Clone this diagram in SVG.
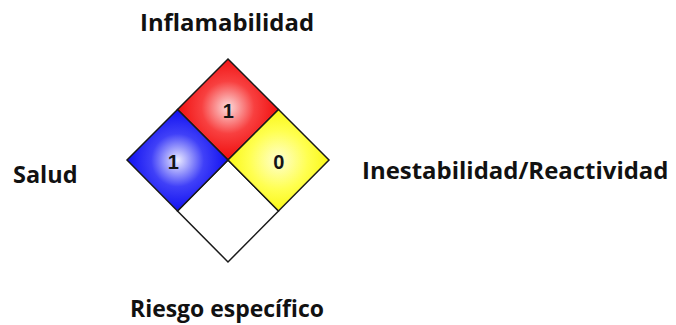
<svg xmlns="http://www.w3.org/2000/svg" width="676" height="325" viewBox="0 0 676 325">
  <style>
    .label { font-family: "Open Sans", "Noto Sans", "Liberation Sans", sans-serif; font-weight: 700; font-size: 23px; fill: #111; }
    .num { font-family: "Liberation Sans", Arial, sans-serif; font-weight: 700; font-size: 20px; fill: #151515; text-anchor: middle; }
    .quad { stroke: #1a1a1a; stroke-width: 1.5; stroke-linejoin: miter; }
  </style>
  <defs>
    <radialGradient id="gRed" cx="0.5" cy="0.48" r="0.58">
      <stop offset="0" stop-color="#fcdcdc"/>
      <stop offset="0.45" stop-color="#f84040"/>
      <stop offset="1" stop-color="#ee0000"/>
    </radialGradient>
    <radialGradient id="gBlue" cx="0.5" cy="0.5" r="0.58">
      <stop offset="0" stop-color="#ececff"/>
      <stop offset="0.45" stop-color="#4040f8"/>
      <stop offset="1" stop-color="#0000ee"/>
    </radialGradient>
    <radialGradient id="gYellow" cx="0.5" cy="0.5" r="0.58">
      <stop offset="0" stop-color="#fefed0"/>
      <stop offset="0.5" stop-color="#ffff50"/>
      <stop offset="1" stop-color="#f8f400"/>
    </radialGradient>
  </defs>
  <rect width="676" height="325" fill="#ffffff"/>

  <g id="white-quadrant">
    <polygon class="quad" points="228,160 278.5,211 228,262 177.5,211" fill="#ffffff" stroke-width="1.2"/>
  </g>
  <g id="red-quadrant">
    <polygon class="quad" points="228,59 278.5,109.5 228,160 177.5,109.5" fill="url(#gRed)"/>
    <text class="num" x="228.3" y="117.7">1</text>
  </g>
  <g id="blue-quadrant">
    <polygon class="quad" points="177.5,109.5 228,160 177.5,211 127,160" fill="url(#gBlue)"/>
    <text class="num" x="173.3" y="169">1</text>
  </g>
  <g id="yellow-quadrant">
    <polygon class="quad" points="278.5,109.5 329,160 278.5,211 228,160" fill="url(#gYellow)"/>
    <text class="num" x="278.7" y="169">0</text>
  </g>

  <g id="label-inflamabilidad">
    <text class="label" x="140" y="31" textLength="174" lengthAdjust="spacingAndGlyphs">Inflamabilidad</text>
  </g>
  <g id="label-salud">
    <text class="label" x="13" y="183.3" textLength="64.5" lengthAdjust="spacingAndGlyphs">Salud</text>
  </g>
  <g id="label-reactividad">
    <text class="label" x="362" y="179.3" textLength="306.5" lengthAdjust="spacingAndGlyphs">Inestabilidad/Reactividad</text>
  </g>
  <g id="label-riesgo">
    <text class="label" x="130" y="316.7" textLength="194" lengthAdjust="spacingAndGlyphs">Riesgo específico</text>
  </g>
</svg>
